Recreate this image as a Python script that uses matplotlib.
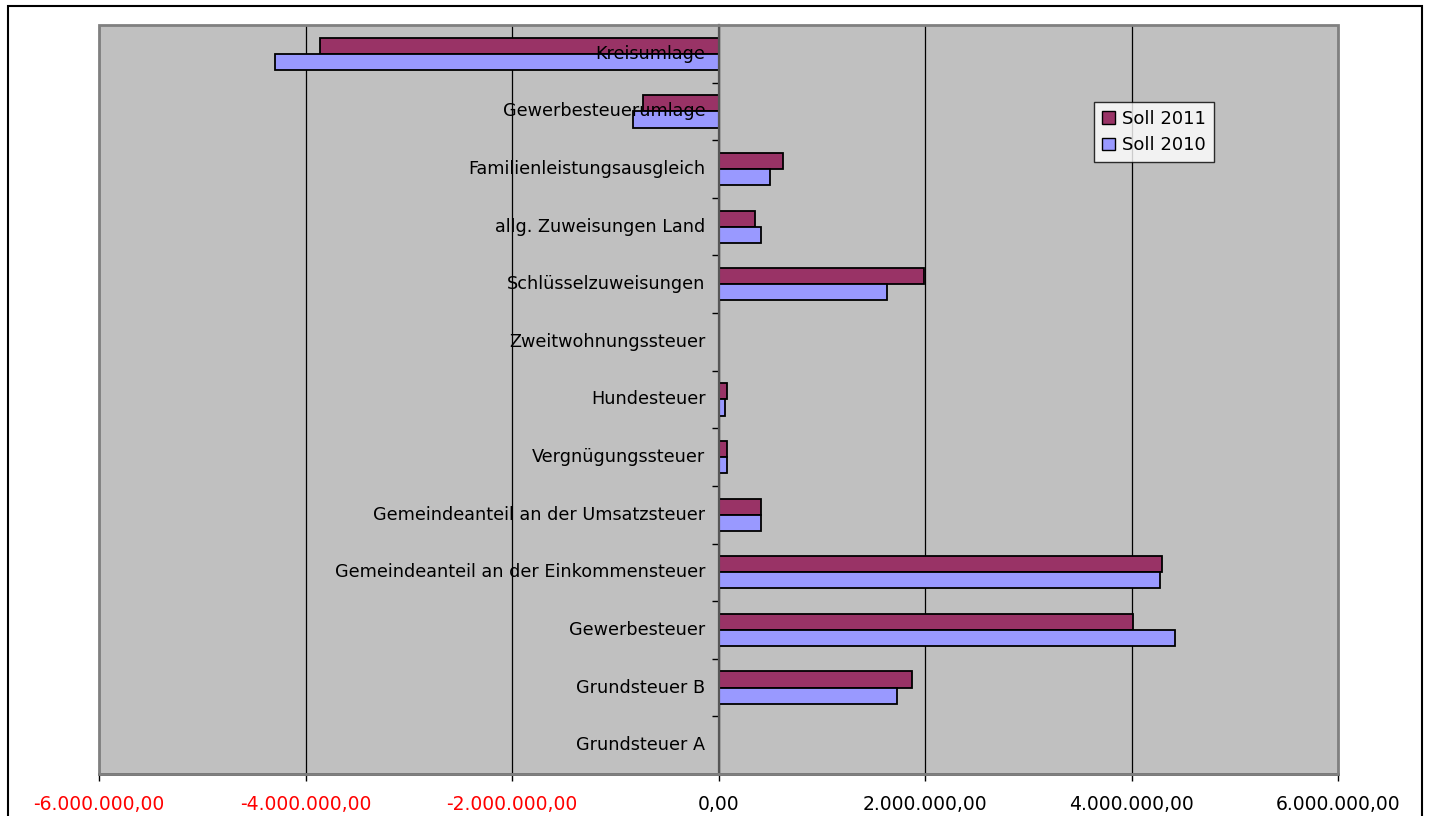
import matplotlib.pyplot as plt
import numpy as np
from matplotlib.patches import Patch, Rectangle

# Haushaltspositionen (von unten nach oben)
positionen = [
    "Grundsteuer A",
    "Grundsteuer B",
    "Gewerbesteuer",
    "Gemeindeanteil an der Einkommensteuer",
    "Gemeindeanteil an der Umsatzsteuer",
    "Vergnügungssteuer",
    "Hundesteuer",
    "Zweitwohnungssteuer",
    "Schlüsselzuweisungen",
    "allg. Zuweisungen Land",
    "Familienleistungsausgleich",
    "Gewerbesteuerumlage",
    "Kreisumlage",
]

soll_2011 = [0, 1874000, 4015000, 4295000, 410000, 85000, 85000, 0,
             1990000, 355000, 625000, -730000, -3860000]
soll_2010 = [0, 1729000, 4420000, 4276000, 410000, 85000, 65000, 0,
             1630000, 410000, 500000, -830000, -4300000]

x_ticks = [-6000000, -4000000, -2000000, 0, 2000000, 4000000, 6000000]


def deutsch(v):
    s = f"{v:,.2f}"
    return s.replace(",", "X").replace(".", ",").replace("X", ".")


plt.rcParams['font.family'] = ['DejaVu Sans']

fig = plt.figure(figsize=(14.29, 8.16), dpi=100)
ax = fig.add_axes([99 / 1429, 1 - 774 / 816, 1239 / 1429, 749 / 816])
ax.set_facecolor('#C0C0C0')

y = np.arange(len(positionen))
h = 0.28
ax.barh(y + h / 2, soll_2011, height=h, color='#993366', edgecolor='black',
        linewidth=1.3, zorder=3)
ax.barh(y - h / 2, soll_2010, height=h, color='#9999FF', edgecolor='black',
        linewidth=1.3, zorder=3)

ax.set_xlim(-6000000, 6000000)
ax.set_ylim(-0.5, len(positionen) - 0.5)

# Gitterlinien
ax.set_xticks(x_ticks)
ax.xaxis.grid(True, color='black', linewidth=0.9, zorder=1)
ax.set_axisbelow(True)

# X-Achse mit deutscher Zahlenformatierung, negative Werte rot
ax.set_xticklabels([deutsch(v) for v in x_ticks], fontsize=13.5)
for lbl, v in zip(ax.get_xticklabels(), x_ticks):
    lbl.set_color('red' if v < 0 else 'black')
ax.tick_params(axis='x', direction='out', length=5, width=1, pad=10)

# Y-Achse bei 0 mit Teilstrichen zwischen den Kategorien
ax.spines['left'].set_position(('data', 0))
ax.spines['left'].set_color('#555555')
ax.spines['left'].set_linewidth(1.6)
ax.spines['left'].set_zorder(4)
ax.set_yticks(np.arange(len(positionen) - 1) + 0.5)
ax.set_yticklabels([])
ax.tick_params(axis='y', direction='out', length=5, width=1, color='black')

for s in ['top', 'right']:
    ax.spines[s].set_visible(False)
ax.spines['bottom'].set_color('#222222')
ax.spines['bottom'].set_linewidth(1.8)

# Rahmen der Zeichenfläche
ax.add_patch(Rectangle((0, 0), 1, 1, transform=ax.transAxes, fill=False,
                       edgecolor='#808080', linewidth=2, zorder=5, clip_on=False))

# Kategoriebeschriftungen direkt neben der Achse
for yi, name in zip(y, positionen):
    ax.annotate(name, xy=(0, yi), xytext=(-13, 0), textcoords='offset pixels',
                ha='right', va='center', fontsize=12.7, color='black', zorder=6)

# Legende
handles = [Patch(facecolor='#993366', edgecolor='black', label='Soll 2011'),
           Patch(facecolor='#9999FF', edgecolor='black', label='Soll 2010')]
leg = fig.legend(handles=handles, loc='upper left',
                 bbox_to_anchor=(1094 / 1429, 1 - 102 / 816),
                 frameon=True, fancybox=False, fontsize=13,
                 handlelength=0.7, handleheight=0.7, handletextpad=0.4,
                 borderpad=0.45, labelspacing=0.45, borderaxespad=0)
leg.get_frame().set_edgecolor('black')
leg.get_frame().set_linewidth(1)

# Diagrammrahmen
fig.patches.append(Rectangle((8 / 1429, -0.05), 1414 / 1429, 1.05 - 6 / 816,
                             transform=fig.transFigure, fill=False,
                             edgecolor='black', linewidth=1.5))

fig.savefig('out.png', dpi=100, facecolor='white')
